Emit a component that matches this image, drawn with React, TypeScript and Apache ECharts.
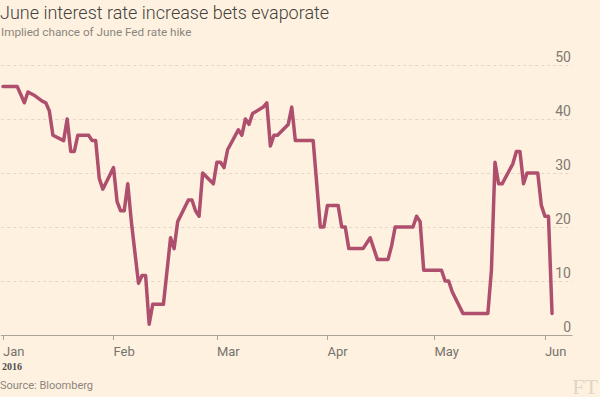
import React, { useEffect, useRef } from "react";
import * as echarts from "echarts";

const dates: string[] = [
  "2016-01-01", "2016-01-05", "2016-01-07", "2016-01-08", "2016-01-10", "2016-01-12", "2016-01-13",
  "2016-01-14", "2016-01-15", "2016-01-18", "2016-01-19", "2016-01-20", "2016-01-21", "2016-01-22",
  "2016-01-25", "2016-01-26", "2016-01-27", "2016-01-28", "2016-01-29",
  "2016-02-01", "2016-02-02", "2016-02-03", "2016-02-04", "2016-02-05", "2016-02-06", "2016-02-08",
  "2016-02-09", "2016-02-10", "2016-02-11", "2016-02-12", "2016-02-15", "2016-02-17", "2016-02-18",
  "2016-02-19", "2016-02-22", "2016-02-23", "2016-02-24", "2016-02-25", "2016-02-26", "2016-02-29",
  "2016-03-01", "2016-03-02", "2016-03-03", "2016-03-04", "2016-03-07", "2016-03-08", "2016-03-09",
  "2016-03-10", "2016-03-11", "2016-03-14", "2016-03-15", "2016-03-16", "2016-03-17", "2016-03-18",
  "2016-03-21", "2016-03-22", "2016-03-23", "2016-03-28", "2016-03-30", "2016-03-31",
  "2016-04-01", "2016-04-04", "2016-04-05", "2016-04-06", "2016-04-07", "2016-04-11", "2016-04-13",
  "2016-04-15", "2016-04-18", "2016-04-19", "2016-04-20", "2016-04-25", "2016-04-26", "2016-04-27",
  "2016-04-28",
  "2016-05-03", "2016-05-04", "2016-05-05", "2016-05-06", "2016-05-09", "2016-05-16", "2016-05-17",
  "2016-05-18", "2016-05-19", "2016-05-20", "2016-05-23", "2016-05-24", "2016-05-25", "2016-05-26",
  "2016-05-27", "2016-05-30", "2016-05-31",
  "2016-06-01", "2016-06-02", "2016-06-03",
];

const values: number[] = [
  46, 46, 43, 45, 44.3, 43.3, 43,
  41.5, 37, 36, 40, 34, 34, 37,
  37, 36, 36, 29, 27,
  31, 24.7, 23, 23, 28, 21, 9.6,
  11, 11, 2, 5.7, 5.7, 18, 16,
  21, 25, 25, 23, 22, 30, 28,
  32, 32, 31, 34.3, 38, 37, 40,
  39, 41, 42.2, 43, 35, 37, 37,
  39, 42.2, 36, 36, 20, 20,
  24, 24, 20, 20, 16, 16, 18,
  14, 14, 16.5, 20, 20, 22, 21,
  12,
  12, 10, 10, 8, 4, 4, 12,
  32, 28, 28, 31.7, 34, 34, 28,
  30, 30, 24,
  22, 22, 4,
];

const monthNames: string[] = ["Jan", "Feb", "Mar", "Apr", "May", "Jun", "Jul", "Aug", "Sep", "Oct", "Nov", "Dec"];
const yTicks = { min: 0, max: 50, interval: 10 };

const title = "June interest rate increase bets evaporate";
const subtitle = "Implied chance of June Fed rate hike";
const source = "Source: Bloomberg";
const yearLabel = "2016";

export default function App() {
  const ref = useRef<HTMLDivElement>(null);
  useEffect(() => {
    if (!ref.current) return;
    const chart = echarts.init(ref.current, undefined, { renderer: "svg" });
    const DAY = 86400000;
    const xMin = new Date(2016, 0, 1).getTime() - 0.5 * DAY;
    const xMax = xMin + 160.1 * DAY;
    const data = dates.map((d, i) => {
      const [y, m, dd] = d.split("-").map(Number);
      return [new Date(y, m - 1, dd).getTime(), values[i]];
    });
    chart.setOption({
      animation: false,
      backgroundColor: "#fff1e0",
      title: [
        {
          text: title,
          left: 0,
          top: 3,
          padding: 0,
          textStyle: { fontFamily: "Roboto", fontWeight: 300, fontSize: 18, color: "#43423e" },
        },
        {
          text: subtitle,
          left: 1,
          top: 26,
          padding: 0,
          textStyle: { fontFamily: "Roboto", fontWeight: 400, fontSize: 11.7, color: "#8a857d" },
        },
      ],
      grid: { left: 0, right: 28, top: 65, bottom: 62, containLabel: false },
      xAxis: {
        type: "time",
        min: xMin,
        max: xMax,
        splitLine: { show: false },
        axisLine: { show: true, lineStyle: { color: "#aaa397", width: 1 } },
        axisTick: { show: true, length: 5, lineStyle: { color: "#aaa397" } },
        axisLabel: {
          align: "left",
          margin: 10,
          fontFamily: "Roboto",
          fontSize: 13,
          color: "#74736c",
          formatter: (v: number) => monthNames[new Date(v).getMonth()],
        },
      },
      yAxis: {
        type: "value",
        position: "right",
        min: yTicks.min,
        max: yTicks.max,
        interval: yTicks.interval,
        axisLine: { show: false },
        axisTick: { show: false },
        splitLine: { show: true, lineStyle: { color: "#e2d6c7", type: [3, 3], width: 1 } },
        axisLabel: {
          inside: true,
          margin: 1,
          verticalAlign: "bottom",
          padding: [0, 0, 1, 0],
          fontFamily: "Roboto",
          fontSize: 14,
          color: "#807a72",
        },
      },
      series: [
        {
          type: "line",
          data,
          showSymbol: false,
          symbol: "none",
          lineStyle: { color: "#af4f6e", width: 3.5, join: "round", cap: "round" },
        },
      ],
      graphic: [
        {
          type: "text",
          left: 2,
          top: 361,
          style: { text: yearLabel, font: "600 10px 'Liberation Serif'", fill: "#4d4d4d" },
        },
        {
          type: "text",
          left: 0,
          top: 380,
          style: { text: source, font: "11px Roboto", fill: "#8a857d" },
        },
        {
          type: "text",
          right: 2,
          top: 375,
          style: { text: "FT", font: "22px 'Liberation Serif'", fill: "#e3d5c4" },
        },
      ],
    });
    return () => chart.dispose();
  }, []);
  return (
    <div
      ref={ref}
      style={{ position: "fixed", left: 0, top: 0, width: 600, height: 397 }}
    />
  );
}
